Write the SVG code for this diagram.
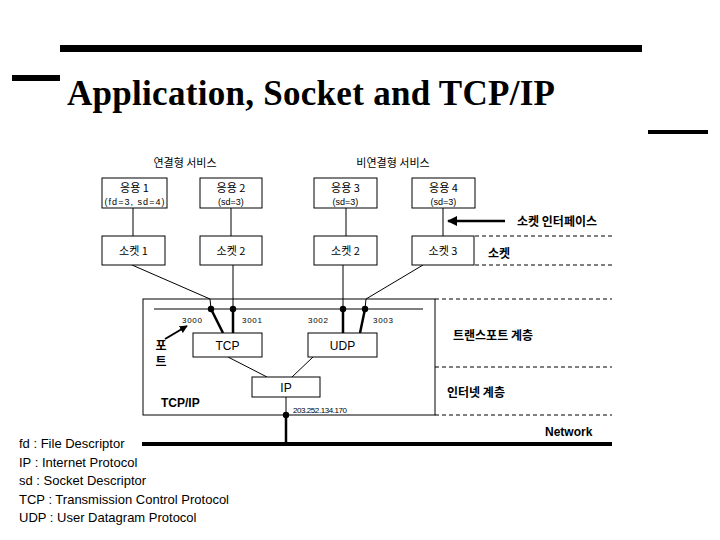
<svg xmlns="http://www.w3.org/2000/svg" width="720" height="540" viewBox="0 0 720 540">
<defs>
<style>
.box{fill:#fff;stroke:#000;stroke-width:1}
.frame{fill:none;stroke:#000;stroke-width:1}
.ln{stroke:#000;stroke-width:1;fill:none}
.tk{stroke:#000;stroke-width:2.5;fill:none}
.ds{stroke:#000;stroke-width:1;stroke-dasharray:4 3;fill:none}
.kr{font-family:"Noto Sans CJK KR","Liberation Sans",sans-serif;font-size:11px;fill:#000}
.krb{font-family:"Noto Sans CJK KR","Liberation Sans",sans-serif;font-size:12px;font-weight:bold;fill:#000}
.en{font-family:"Liberation Sans",Arial,sans-serif;font-size:12px;fill:#000}
.enb{font-family:"Liberation Sans",Arial,sans-serif;font-size:12px;font-weight:bold;fill:#000}
.sm{font-family:"Liberation Sans",Arial,sans-serif;font-size:8px;fill:#000}
.sub{font-family:"Liberation Sans",Arial,sans-serif;font-size:9px;fill:#000}
.lg{font-family:"Liberation Sans",Arial,sans-serif;font-size:13px;fill:#000}
.mid{text-anchor:middle}
.dot{fill:#000}
</style>
<marker id="ah" viewBox="0 0 10 10" refX="9" refY="5" markerWidth="4" markerHeight="4" orient="auto" markerUnits="strokeWidth">
<path d="M0,0 L10,5 L0,10 z" fill="#000"/>
</marker>
</defs>
<rect width="720" height="540" fill="#fff"/>

<g id="title">
<rect x="60" y="45" width="582" height="7" fill="#000"/>
<rect x="12" y="75" width="48" height="6" fill="#000"/>
<rect x="648" y="130" width="60" height="4" fill="#000"/>
<text x="67" y="105" font-family="Liberation Serif,'Times New Roman',serif" font-size="35" font-weight="bold" textLength="488">Application, Socket and TCP/IP</text>
</g>

<g id="headers">
<text class="kr mid" x="185" y="167" font-size="12">연결형 서비스</text>
<text class="kr mid" x="393" y="167" font-size="12">비연결형 서비스</text>
</g>

<g id="tcpip">
<rect class="frame" x="143" y="299" width="292" height="116"/>
<text class="sm" x="182" y="323" textLength="20">3000</text>
<text class="sm" x="242" y="323" textLength="20">3001</text>
<text class="sm" x="308" y="323" textLength="20">3002</text>
<text class="sm" x="373" y="323" textLength="20">3003</text>
<text class="krb mid" x="161" y="350" font-size="9">포</text>
<text class="krb mid" x="161" y="366" font-size="9">트</text>
<text class="enb" x="161" y="407">TCP/IP</text>
<text class="sm" x="293" y="413" textLength="54">203.252.134.170</text>
</g>

<g id="connectors">
<line class="ln" x1="133" y1="208" x2="133" y2="236"/>
<line class="ln" x1="231" y1="208" x2="231" y2="236"/>
<line class="ln" x1="346" y1="208" x2="346" y2="236"/>
<line class="ln" x1="443" y1="208" x2="443" y2="236"/>
<line class="ln" x1="132" y1="265" x2="210" y2="299"/>
<line class="ln" x1="210" y1="299" x2="211" y2="309"/>
<line class="ln" x1="233" y1="265" x2="233" y2="309"/>
<line class="ln" x1="343" y1="265" x2="343" y2="309"/>
<line class="ln" x1="423" y1="265" x2="366" y2="299"/>
<line class="ln" x1="366" y1="299" x2="365" y2="309"/>
<line class="ln" x1="154" y1="309" x2="423" y2="309"/>
<line class="tk" x1="211" y1="309" x2="223" y2="333"/>
<line class="tk" x1="233" y1="309" x2="233" y2="333"/>
<line class="tk" x1="343" y1="309" x2="343" y2="333"/>
<line class="tk" x1="365" y1="309" x2="360" y2="333"/>
<line class="ln" x1="228" y1="357" x2="267" y2="377"/>
<line class="ln" x1="313" y1="357" x2="292" y2="377"/>
<line class="ln" x1="286" y1="397" x2="286" y2="415"/>
<line class="tk" x1="286" y1="415" x2="286" y2="443"/>
<line x1="505" y1="221" x2="448" y2="221" stroke="#000" stroke-width="2.5" marker-end="url(#ah)"/>
<line x1="165" y1="339" x2="187" y2="326" stroke="#000" stroke-width="2" marker-end="url(#ah)"/>
<circle class="dot" cx="211" cy="309" r="3.2"/>
<circle class="dot" cx="233" cy="309" r="3.2"/>
<circle class="dot" cx="343" cy="309" r="3.2"/>
<circle class="dot" cx="365" cy="309" r="3.2"/>
<circle class="dot" cx="286" cy="415" r="3.2"/>
</g>

<g id="app1"><rect class="box" x="102" y="178" width="65" height="30"/><text class="kr mid" x="134.5" y="192">응용 1</text><text class="sub mid" x="134.5" y="205" textLength="60">(fd=3, sd=4)</text></g>
<g id="app2"><rect class="box" x="200" y="178" width="62" height="30"/><text class="kr mid" x="231" y="192">응용 2</text><text class="sub mid" x="231" y="205">(sd=3)</text></g>
<g id="app3"><rect class="box" x="314" y="178" width="63" height="30"/><text class="kr mid" x="345.5" y="192">응용 3</text><text class="sub mid" x="345.5" y="205">(sd=3)</text></g>
<g id="app4"><rect class="box" x="412" y="178" width="63" height="30"/><text class="kr mid" x="443.5" y="192">응용 4</text><text class="sub mid" x="443.5" y="205">(sd=3)</text></g>

<g id="sock1"><rect class="box" x="102" y="236" width="63" height="29"/><text class="kr mid" x="133.5" y="255" font-size="12">소켓 1</text></g>
<g id="sock2"><rect class="box" x="200" y="236" width="62" height="29"/><text class="kr mid" x="231" y="255" font-size="12">소켓 2</text></g>
<g id="sock2b"><rect class="box" x="314" y="236" width="63" height="29"/><text class="kr mid" x="345.5" y="255" font-size="12">소켓 2</text></g>
<g id="sock3"><rect class="box" x="412" y="236" width="62" height="29"/><text class="kr mid" x="443" y="255" font-size="12">소켓 3</text></g>

<g id="layers">
<line class="ds" x1="475" y1="236" x2="612" y2="236"/>
<line class="ds" x1="475" y1="265" x2="612" y2="265"/>
<line class="ds" x1="435" y1="299" x2="612" y2="299"/>
<line class="ds" x1="435" y1="367" x2="612" y2="367"/>
<line class="ds" x1="435" y1="415" x2="612" y2="415"/>
<text class="krb" x="517" y="226">소켓 인터페이스</text>
<text class="krb" x="488" y="258">소켓</text>
<text class="krb" x="453" y="340">트랜스포트 계층</text>
<text class="krb" x="447" y="397">인터넷 계층</text>
<text class="enb" x="545" y="436" font-size="11">Network</text>
</g>

<g id="tcp"><rect class="box" x="193" y="333" width="69" height="24"/><text class="en mid" x="227.5" y="350" font-size="13">TCP</text></g>
<g id="udp"><rect class="box" x="308" y="333" width="69" height="24"/><text class="en mid" x="342.5" y="350" font-size="13">UDP</text></g>
<g id="ip"><rect class="box" x="252" y="377" width="68" height="20"/><text class="en mid" x="286" y="392" font-size="13">IP</text></g>

<g id="network"><rect x="142" y="442" width="470" height="4" fill="#000"/></g>

<g id="legend">
<text class="lg" x="19" y="448">fd : File Descriptor</text>
<text class="lg" x="19" y="467">IP : Internet Protocol</text>
<text class="lg" x="19" y="485">sd : Socket Descriptor</text>
<text class="lg" x="19" y="503.5">TCP : Transmission Control Protocol</text>
<text class="lg" x="19" y="522">UDP : User Datagram Protocol</text>
</g>
</svg>
